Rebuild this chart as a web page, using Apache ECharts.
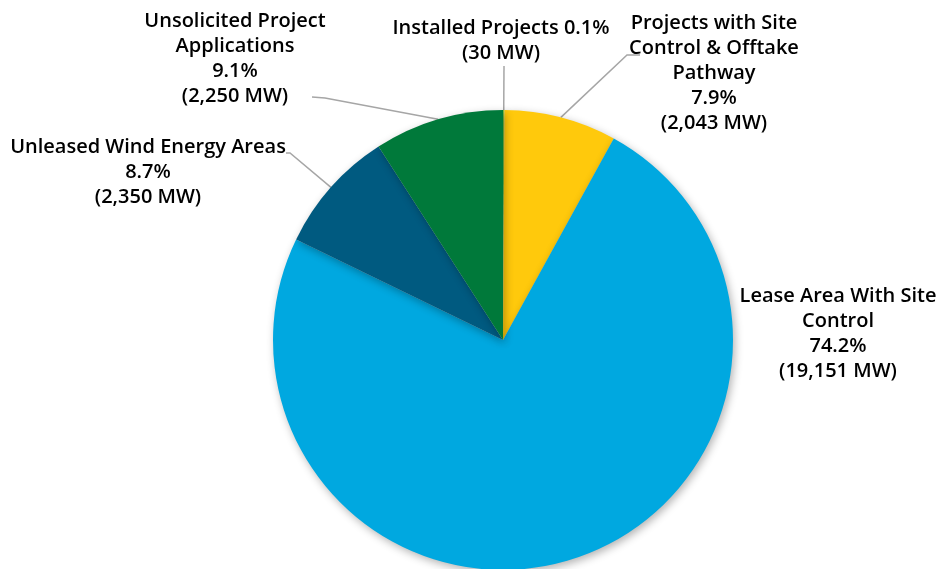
<!DOCTYPE html>
<html>
<head>
<meta charset="utf-8">
<script src="https://cdn.jsdelivr.net/npm/echarts@6/dist/echarts.min.js"></script>
<style>
    html, body { margin: 0; padding: 0; background: #fff; }
    #chart { width: 938px; height: 569px; }
</style>
</head>
<body>
<div id="chart"></div>
<script>
// 数据
var names = ['Installed Projects', 'Projects with Site\nControl & Offtake\nPathway', 'Lease Area With Site\nControl', 'Unleased Wind Energy Areas', 'Unsolicited Project\nApplications'];
var shares = [0.1, 7.9, 74.2, 8.7, 9.1];
var megawatts = ['30', '2,043', '19,151', '2,350', '2,250'];
var colors = ['#8dc63f', '#ffc90c', '#00a8e0', '#005a80', '#00793a'];

// 标签位置, 引导线拐点与终点
var labelPos = [
    { x: 501, y: 41, bend: [504, 66], end: [504, 66] },
    { x: 714, y: 73, bend: [627, 55], end: [640, 55] },
    { x: 838, y: 334 },
    { x: 148, y: 172, bend: [290, 153], end: [286, 153] },
    { x: 235, y: 59, bend: [325, 98], end: [312, 97] }
];

var chart = echarts.init(document.getElementById('chart'));

var data = [];
for (var i = 0; i < names.length; i++) {
    var sep = i === 0 ? ' ' : '\n';
    data.push({
        name: names[i],
        value: shares[i],
        label: { formatter: names[i] + sep + shares[i].toFixed(1) + '%\n(' + megawatts[i] + ' MW)' },
        labelLine: { show: i !== 2 },
        itemStyle: { color: colors[i] }
    });
}

chart.setOption({
    backgroundColor: '#fff',
    series: [{
        type: 'pie',
        center: [503, 340],
        radius: 230,
        startAngle: 90,
        clockwise: true,
        avoidLabelOverlap: false,
        animation: false,
        data: data,
        itemStyle: {
            borderWidth: 0,
            shadowBlur: 8,
            shadowOffsetX: 2,
            shadowOffsetY: 3,
            shadowColor: 'rgba(0,0,0,0.3)'
        },
        label: {
            show: true,
            position: 'outside',
            color: '#000',
            fontFamily: 'Open Sans',
            fontWeight: 600,
            fontSize: 20,
            lineHeight: 25,
            align: 'center'
        },
        labelLine: {
            show: true,
            length: 20,
            length2: 10,
            lineStyle: { color: '#a6a6a6', width: 1.5 }
        },
        labelLayout: function(params) {
            var p = labelPos[params.dataIndex];
            var res = { x: p.x, y: p.y, align: 'center', verticalAlign: 'middle' };
            if (p.bend && params.labelLinePoints) {
                res.labelLinePoints = [params.labelLinePoints[0], p.bend, p.end];
            }
            return res;
        }
    }]
});
</script>
</body>
</html>
